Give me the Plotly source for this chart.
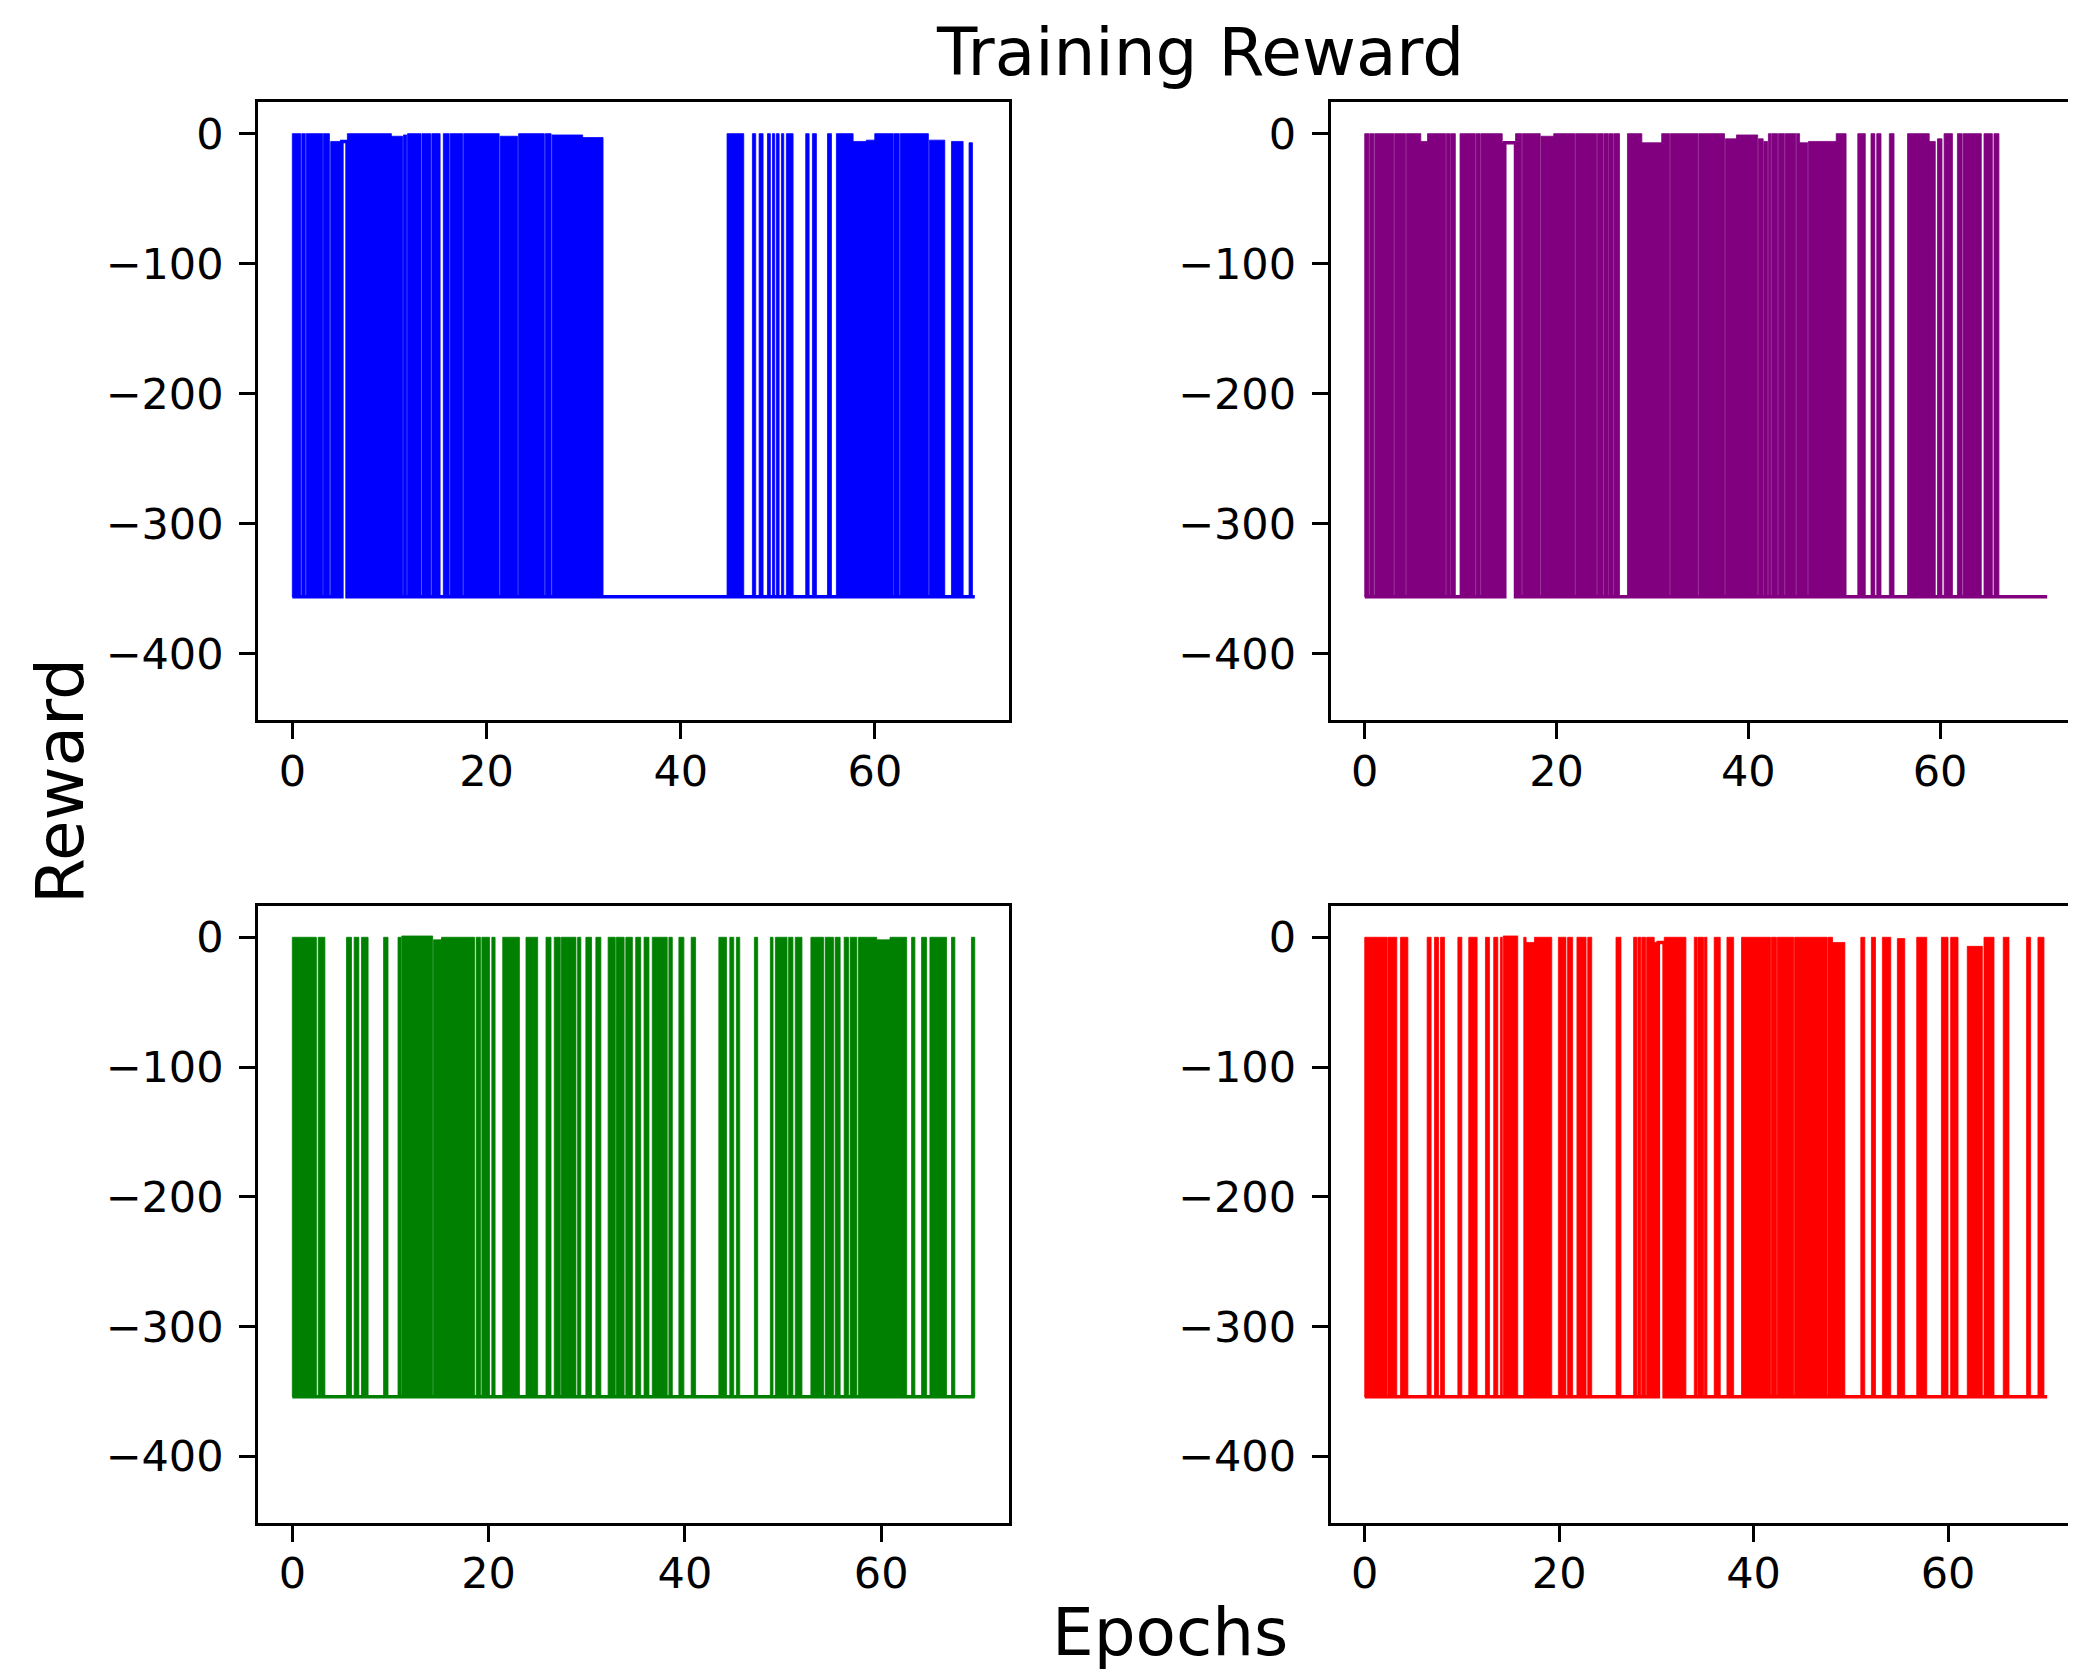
import plotly.graph_objects as go

PAGE_OFFSET = 8            # default body margin of the html page
FIG_W, FIG_H = 2076 - PAGE_OFFSET, 1671 - PAGE_OFFSET

# ---------------- data ----------------
TITLE = "Training Reward"
X_LABEL = "Epochs"
Y_LABEL = "Reward"
Y_TICKS = [0, -100, -200, -300, -400]
Y_TICK_TEXT = ["0", "\u2212100", "\u2212200", "\u2212300", "\u2212400"]
X_TICKS = [0, 20, 40, 60]
X_TICK_TEXT = ["0", "20", "40", "60"]
Y_RANGE = [-451, 24.4]

# Each run: dense bursts (start epoch, end epoch, top reward), flat high stretches,
# low (failure) reward level, last epoch.
blue_bursts = [
    (0.00, 0.88, 0), (0.98, 1.33, 0), (1.43, 3.12, 0), (3.20, 3.82, 0),
    (3.95, 5.10, -6),
    (5.67, 10.20, 0), (10.20, 11.35, -2), (11.45, 11.78, -1), (11.87, 13.25, 0),
    (13.35, 14.27, 0), (14.37, 15.22, 0), (15.55, 16.15, 0), (16.25, 17.55, 0),
    (17.65, 21.30, 0), (21.40, 23.20, -2), (23.30, 25.95, 0), (26.05, 26.65, 0),
    (26.75, 29.90, -1), (29.90, 32.00, -3),
    (44.77, 46.49, 0), (47.38, 47.72, 0), (48.07, 48.48, 0), (48.93, 49.23, 0),
    (49.44, 49.68, 0), (49.85, 50.13, 0), (50.37, 50.61, 0), (50.88, 51.57, 0),
    (52.87, 53.22, 0), (53.56, 53.97, 0), (55.11, 55.52, 0), (56.03, 57.75, 0),
    (57.75, 59.12, -6), (59.12, 59.98, -5), (59.98, 61.87, 0), (61.95, 62.50, 0),
    (62.60, 64.27, 0), (64.27, 65.50, 0), (65.60, 67.19, -5), (67.88, 69.08, -6),
    (69.69, 70.04, -7),
]
blue_flats = [(5.10, 5.64, -6)]
blue_low = -356
blue_end = 70.28

purple_bursts = [
    (0.00, 0.44, 0), (0.52, 0.96, 0), (1.05, 3.04, 0), (3.12, 4.25, 0), (4.33, 5.85, 0),
    (5.85, 6.55, -6), (6.55, 8.42, 0), (8.50, 8.93, 0), (9.00, 9.45, 0), (9.94, 11.53, 0),
    (11.61, 12.05, 0), (12.13, 14.34, 0), (14.34, 14.60, -7),
    (15.73, 16.38, 0), (16.46, 18.30, 0), (18.38, 19.71, -2), (19.71, 21.92, 0),
    (22.00, 24.18, 0), (24.26, 24.87, 0), (24.95, 25.40, 0), (25.47, 25.92, 0),
    (26.00, 26.57, 0), (27.40, 28.90, 0), (28.90, 30.97, -7), (30.97, 31.80, 0),
    (31.88, 34.75, 0), (34.83, 37.52, 0), (37.60, 38.77, -4), (38.77, 40.98, -1),
    (41.06, 41.55, -4), (41.62, 42.02, -6), (42.10, 42.36, 0), (42.44, 43.06, 0),
    (43.14, 43.76, 0), (43.84, 44.96, 0), (45.04, 45.35, 0), (45.35, 46.20, -7),
    (46.28, 49.17, -6), (49.17, 50.20, 0), (51.42, 52.20, 0), (52.80, 53.20, 0),
    (53.40, 53.84, 0), (54.71, 55.20, 0), (56.61, 58.87, 0), (58.87, 59.50, -6),
    (59.73, 60.20, -4), (60.42, 61.29, 0), (61.81, 62.30, 0), (62.40, 64.30, 0),
    (64.58, 65.45, 0), (65.62, 66.14, 0),
]
purple_flats = [(14.60, 15.73, -7)]
purple_low = -356
purple_end = 71.17

green_bursts = [
    (0.00, 2.45, 0), (2.64, 3.32, 0), (5.52, 6.03, 0), (6.30, 6.78, 0), (7.05, 7.72, 0),
    (9.30, 9.75, 0), (10.77, 11.08, 0), (11.15, 14.30, 1), (14.38, 15.20, -2),
    (15.20, 18.56, 0), (18.73, 19.17, 0), (19.31, 20.09, 0), (20.33, 20.66, 0),
    (21.44, 23.14, 0), (23.81, 25.00, 0), (25.85, 26.36, 0), (26.69, 27.30, 0),
    (27.40, 28.90, 0), (29.07, 29.40, 0), (29.91, 30.49, 0), (30.93, 31.44, 0),
    (32.18, 32.90, 0), (33.00, 33.81, 0), (33.98, 34.65, 0), (34.99, 35.50, 0),
    (35.84, 36.34, 0), (36.68, 38.20, 0), (38.37, 38.72, 0), (39.39, 39.90, 0),
    (40.64, 41.09, 0), (43.46, 44.24, 0), (44.58, 44.98, 0), (45.25, 45.59, 0),
    (47.08, 47.42, 0), (48.71, 48.98, 0), (49.22, 50.41, 0), (50.57, 51.01, 0),
    (51.25, 51.93, 0), (52.84, 54.13, 0), (54.30, 55.14, 0), (55.31, 55.82, 0),
    (56.23, 56.67, 0), (56.84, 57.52, 0), (57.68, 59.55, 0), (59.55, 60.90, -2),
    (60.90, 62.60, 0), (63.10, 63.44, 0), (64.12, 64.63, 0), (64.97, 66.66, 0),
    (67.17, 67.51, 0), (69.20, 69.54, 0),
]
green_flats = []
green_low = -354
green_end = 69.54

red_bursts = [
    (0.00, 2.30, 0), (2.38, 3.30, 0), (3.68, 4.44, 0),
    (6.42, 6.83, 0), (7.18, 7.59, 0), (7.79, 8.20, 0), (9.58, 9.99, 0), (10.70, 11.56, 0),
    (12.42, 12.83, 0), (13.27, 13.69, 0), (13.96, 14.15, 0), (14.25, 15.74, 1),
    (16.36, 16.60, 0), (16.60, 17.46, -4), (17.46, 19.24, 0), (19.92, 20.70, 0),
    (20.87, 21.39, 0), (21.83, 22.77, 0), (22.94, 23.35, 0), (25.85, 26.36, 0),
    (27.66, 28.00, 0), (28.10, 28.40, 0), (28.50, 28.90, 0), (29.00, 29.78, 0),
    (29.78, 30.20, -4), (30.81, 33.04, 0), (33.90, 34.20, 0), (34.28, 34.85, 0),
    (34.93, 35.20, 0), (35.95, 36.57, 0), (37.26, 37.95, 0), (38.76, 41.74, 0),
    (41.82, 42.35, 0), (42.43, 44.14, 0), (44.22, 47.56, 0), (47.64, 48.12, 0),
    (48.12, 49.39, -4), (51.03, 51.44, 0), (52.12, 52.54, 0), (53.25, 54.11, 0),
    (54.79, 55.55, -1), (56.78, 57.81, 0), (59.32, 60.00, 0), (60.27, 61.03, 0),
    (61.98, 63.53, -7), (63.70, 64.73, 0), (65.68, 66.27, 0), (68.08, 68.50, 0),
    (69.25, 69.87, 0),
]
red_flats = [(30.20, 30.80, -4)]
red_low = -354
red_end = 70.20

COLORS = {"blue": "#0000ff", "purple": "#800080", "green": "#008000", "red": "#ff0000"}

# ---------------- layout geometry (page pixels of the 2076x1671 window) ----------------
COL_X = [(258.2, 1008.9), (1330.6, 2081.3)]
ROW_Y = [(101.9, 720.3), (905.6, 1522.6)]


def fx(px):
    return (px - PAGE_OFFSET) / FIG_W


def fy(py):
    return 1 - (py - PAGE_OFFSET) / FIG_H


def burst_polygons(bursts, low):
    xs, ys = [], []
    for s, e, top in bursts:
        xs += [s, s, e, e, s, None]
        ys += [low, top, top, low, low, None]
    return xs, ys


def base_path(bursts, flats, low, end):
    events = sorted([(s, e, None) for s, e, _ in bursts] + list(flats))
    xs, ys = [0.0], [low]
    for s, e, lvl in events:
        if lvl is None:
            xs += [s, e]
            ys += [low, low]
        else:
            xs += [s, s, e, e]
            ys += [low, lvl, lvl, low]
    xs.append(end)
    ys.append(low)
    return xs, ys


panels = [
    ("blue", blue_bursts, blue_flats, blue_low, blue_end, 0, 0),
    ("purple", purple_bursts, purple_flats, purple_low, purple_end, 0, 1),
    ("green", green_bursts, green_flats, green_low, green_end, 1, 0),
    ("red", red_bursts, red_flats, red_low, red_end, 1, 1),
]

fig = go.Figure()
layout = {}
font_family = "DejaVu Sans"
page_right = PAGE_OFFSET + FIG_W

for i, (cname, bursts, flats, low, end, row, col) in enumerate(panels, start=1):
    color = COLORS[cname]
    xa = "x" if i == 1 else f"x{i}"
    ya = "y" if i == 1 else f"y{i}"
    bx, by = burst_polygons(bursts, low)
    fig.add_trace(go.Scatter(x=bx, y=by, mode="lines", fill="toself",
                             fillcolor=color, line=dict(color=color, width=0.8),
                             xaxis=xa, yaxis=ya, hoverinfo="skip", showlegend=False))
    px_, py_ = base_path(bursts, flats, low, end)
    fig.add_trace(go.Scatter(x=px_, y=py_, mode="lines",
                             line=dict(color=color, width=3.6),
                             xaxis=xa, yaxis=ya, hoverinfo="skip", showlegend=False))

    # matplotlib-style autoscale with 5% margins on x
    r0, r1 = -0.05 * end, 1.05 * end
    x0p, x1p = COL_X[col]
    if x1p > page_right:
        frac = (page_right - x0p) / (x1p - x0p)
        r1 = r0 + frac * (r1 - r0)
        x1p = page_right
    y0p, y1p = ROW_Y[row]
    axis_common = dict(showline=True, linecolor="black", linewidth=3,
                       ticks="outside", ticklen=16, tickwidth=3, tickcolor="black",
                       showgrid=False, zeroline=False,
                       tickfont=dict(family=font_family, size=43, color="black"))
    layout["xaxis" if i == 1 else f"xaxis{i}"] = dict(
        domain=[fx(x0p), min(1.0, fx(x1p))], range=[r0, r1],
        anchor=ya, mirror=True, tickvals=X_TICKS, ticktext=X_TICK_TEXT,
        ticklabelstandoff=-5, **axis_common)
    layout["yaxis" if i == 1 else f"yaxis{i}"] = dict(
        domain=[fy(y1p), fy(y0p)], range=Y_RANGE,
        anchor=xa, mirror=(col == 0), tickvals=Y_TICKS, ticktext=Y_TICK_TEXT,
        ticklabelstandoff=7, **axis_common)

fig.update_layout(**layout)
fig.update_layout(
    width=FIG_W, height=FIG_H,
    margin=dict(l=0, r=0, t=0, b=0),
    paper_bgcolor="white", plot_bgcolor="white",
    showlegend=False,
    annotations=[
        dict(text=TITLE, x=fx(1199.5), y=fy(53), xref="paper", yref="paper",
             xanchor="center", yanchor="middle", showarrow=False,
             font=dict(family=font_family, size=66, color="black")),
        dict(text=X_LABEL, x=fx(1170), y=fy(1632), xref="paper", yref="paper",
             xanchor="center", yanchor="middle", showarrow=False,
             font=dict(family=font_family, size=66, color="black")),
        dict(text=Y_LABEL, x=fx(60), y=fy(781), xref="paper", yref="paper",
             xanchor="center", yanchor="middle", showarrow=False, textangle=-90,
             font=dict(family=font_family, size=66, color="black")),
    ],
)

fig.write_html("out.html")
